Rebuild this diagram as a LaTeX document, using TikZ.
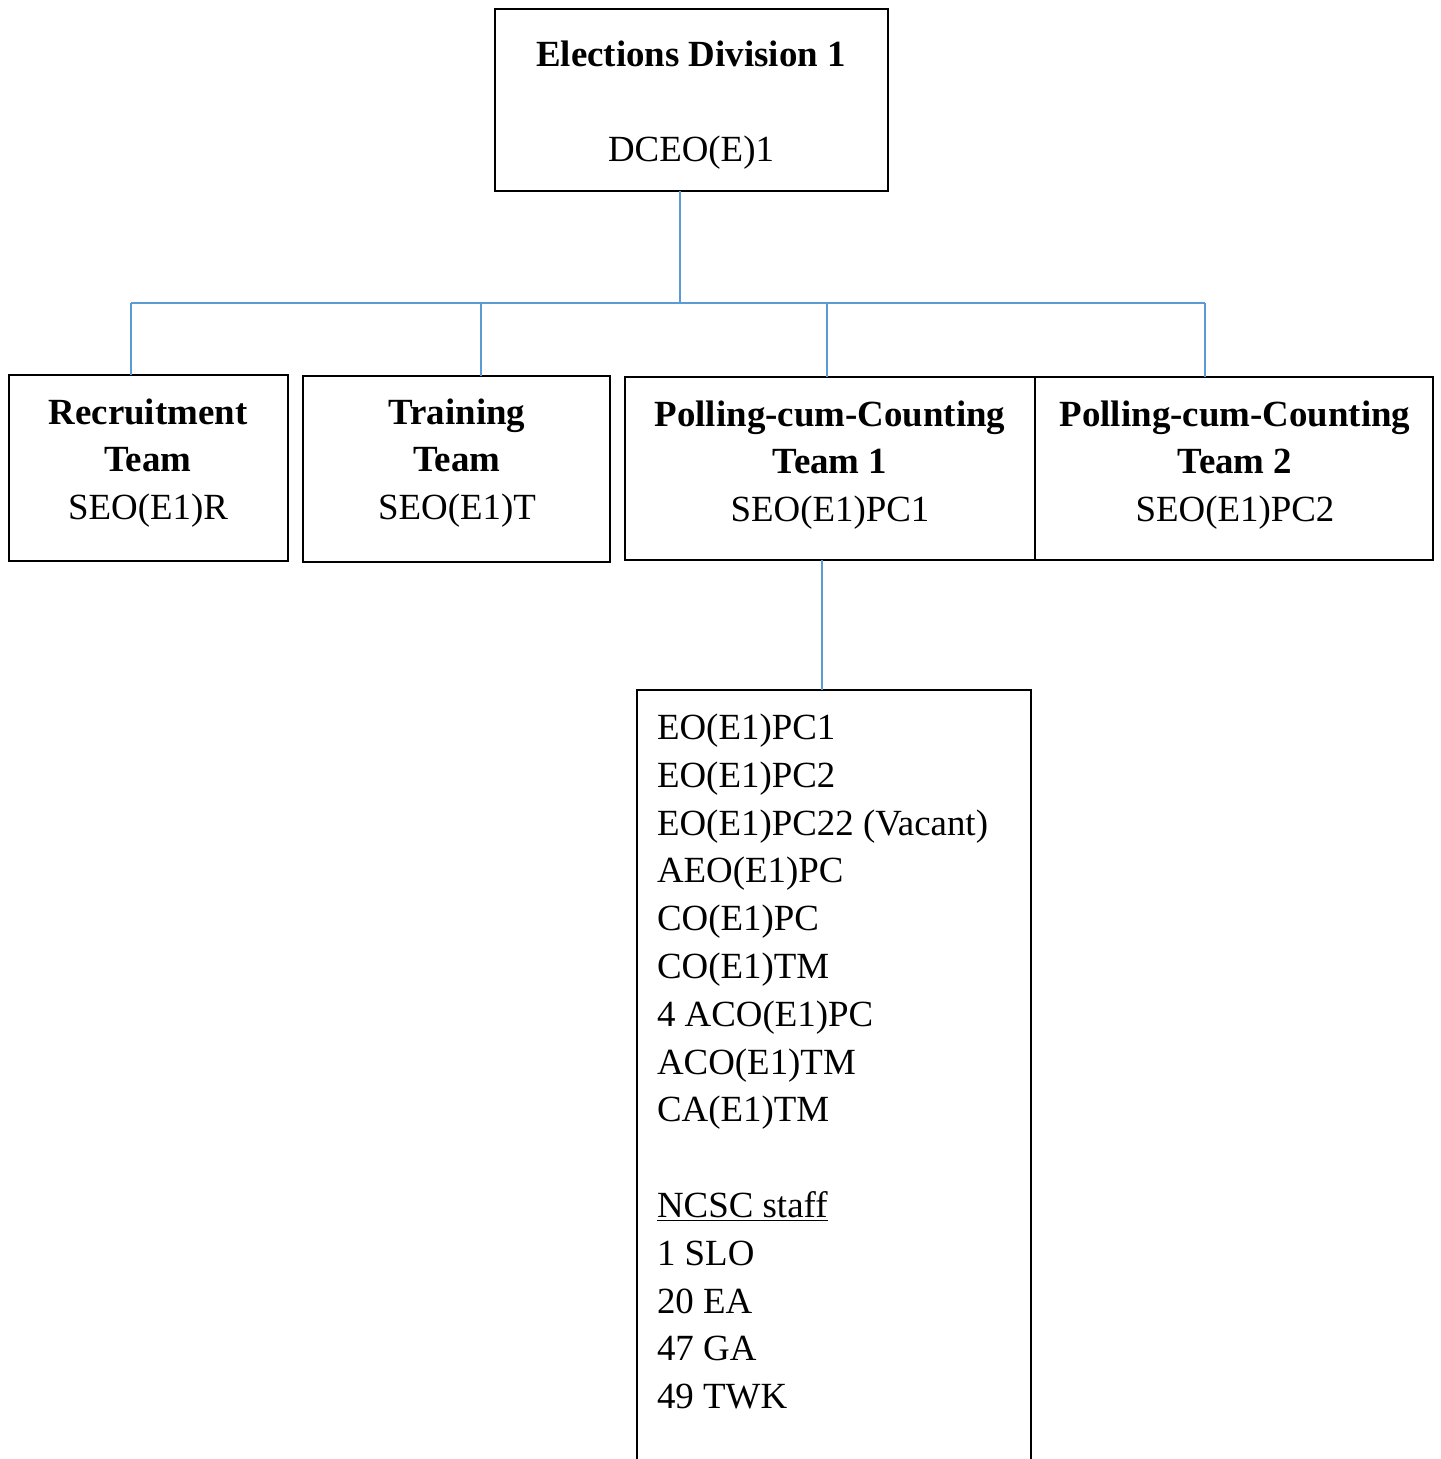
\documentclass[tikz,border=0pt]{standalone}
\usepackage{fontspec}
\setmainfont{Liberation Serif}
\usetikzlibrary{positioning}
\definecolor{linkblue}{RGB}{91,155,213}

\begin{document}
\begin{tikzpicture}[x=0.02cm,y=-0.02cm,font=\fontsize{21pt}{27.2pt}\selectfont]
       \tikzstyle{box}=[draw=black,line width=1.1pt,inner sep=0pt,outer sep=0pt]
       \tikzstyle{teamtext}=[align=center,inner sep=0pt]
       \tikzstyle{link}=[draw=linkblue,line width=0.8pt]

       \useasboundingbox (0,0) rectangle (1440,1459);

       \node[box,minimum width=7.86cm,minimum height=3.64cm] (div) at (691.5,100) {};
       \node[teamtext] (div-txt) at (691,105) {\textbf{Elections Division 1}\\[27.2pt]DCEO(E)1};

       \node[box,minimum width=5.58cm,minimum height=3.72cm] (rec) at (148.5,468) {};
       \node[box,minimum width=6.14cm,minimum height=3.72cm] (trn) at (456.5,469) {};
       \node[box,minimum width=8.2cm,minimum height=3.66cm]  (pc1) at (830,468.5) {};
       \node[box,minimum width=7.96cm,minimum height=3.66cm] (pc2) [right=0pt of pc1] {};

       \node[teamtext] (rec-txt) at (148,463)  {\textbf{Recruitment}\\\textbf{Team}\\SEO(E1)R};
       \node[teamtext] (trn-txt) at (457,463)  {\textbf{Training}\\\textbf{Team}\\SEO(E1)T};
       \node[teamtext] (pc1-txt) at (830,465)  {\textbf{Polling-cum-Counting}\\\textbf{Team 1}\\SEO(E1)PC1};
       \node[teamtext] (pc2-txt) at (1235,465) {\textbf{Polling-cum-Counting}\\\textbf{Team 2}\\SEO(E1)PC2};

       \node[box,anchor=north,text width=7.08cm,inner xsep=0.4cm,inner ysep=0.48cm,align=flush left] (list) at (834,690)
            {EO(E1)PC1\\EO(E1)PC2\\EO(E1)PC22 (Vacant)\\AEO(E1)PC\\CO(E1)PC\\CO(E1)TM\\
             4 ACO(E1)PC\\ACO(E1)TM\\CA(E1)TM\\~\\\underline{NCSC staff}\\1 SLO\\20 EA\\
             47 GA\\49 TWK\\~};

       % the bus under the division box
       \coordinate (hub)     at (680,303);
       \coordinate (bus-rec) at (131,303);
       \coordinate (bus-trn) at (481,303);
       \coordinate (bus-pc1) at (827,303);
       \coordinate (bus-pc2) at (1205,303);

       \path[link]
       (div.south -| hub) edge (hub)
       (bus-rec) edge (bus-pc2)
       (bus-rec) edge (rec.north -| bus-rec)
       (bus-trn) edge (trn.north -| bus-trn)
       (bus-pc1) edge (pc1.north -| bus-pc1)
       (bus-pc2) edge (pc2.north -| bus-pc2)
       (pc1.south -| 822,0) edge (list.north -| 822,0);
\end{tikzpicture}
\end{document}
